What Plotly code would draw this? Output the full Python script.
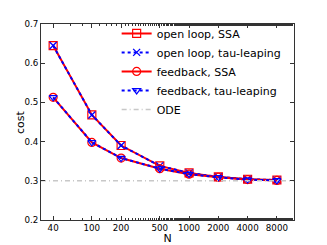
import plotly.graph_objects as go
import numpy as np

N = [40, 100, 200, 500, 1000, 2000, 4000, 8000]
tick_labels = ["40", "100", "200", "500", "1000", "2000", "4000", "8000"]
open_ssa = [0.645, 0.468, 0.390, 0.338, 0.320, 0.310, 0.304, 0.302]
open_tau = [0.645, 0.468, 0.390, 0.338, 0.320, 0.310, 0.304, 0.302]
fb_ssa = [0.513, 0.398, 0.358, 0.331, 0.317, 0.309, 0.303, 0.301]
fb_tau = [0.513, 0.398, 0.358, 0.331, 0.317, 0.309, 0.303, 0.301]
ode_value = 0.3
x_limits = [30, 12000]

RED = "#ff0000"
BLUE = "#0000ff"
FONT = "DejaVu Sans"

fig = go.Figure()
fig.add_trace(go.Scatter(
    x=N, y=open_ssa, name="open loop, SSA", mode="lines+markers",
    line=dict(color=RED, width=2),
    marker=dict(symbol="square-open", size=8, color=RED, line=dict(width=1.2, color=RED)),
))
fig.add_trace(go.Scatter(
    x=N, y=open_tau, name="open loop, tau-leaping", mode="lines+markers",
    line=dict(color=BLUE, width=2, dash="3px,3px"),
    marker=dict(symbol="x-thin-open", size=7, color=BLUE, line=dict(width=1.3, color=BLUE)),
))
fig.add_trace(go.Scatter(
    x=N, y=fb_ssa, name="feedback, SSA", mode="lines+markers",
    line=dict(color=RED, width=2),
    marker=dict(symbol="circle-open", size=8, color=RED, line=dict(width=1.2, color=RED)),
))
fig.add_trace(go.Scatter(
    x=N, y=fb_tau, name="feedback, tau-leaping", mode="lines+markers",
    line=dict(color=BLUE, width=2, dash="3px,3px"),
    marker=dict(symbol="triangle-down-open", size=7, color=BLUE, line=dict(width=1.2, color=BLUE)),
))
fig.add_trace(go.Scatter(
    x=x_limits, y=[ode_value, ode_value], name="ODE", mode="lines",
    line=dict(color="#c8c8c8", width=1.5, dash="5px,3px,1px,3px"),
))

fig.update_layout(
    width=327, height=245,
    margin=dict(l=41, r=33, t=24, b=25, autoexpand=False),
    paper_bgcolor="white", plot_bgcolor="white",
    font=dict(family=FONT, size=10, color="black"),
    showlegend=True,
    legend=dict(
        x=0.299, y=1.026, xanchor="left", yanchor="top",
        bgcolor="rgba(0,0,0,0)", borderwidth=0,
        font=dict(size=11, family=FONT), tracegroupgap=0,
        itemwidth=30,
    ),
    annotations=[dict(
        text="cost", xref="paper", yref="paper", x=-0.083, y=0.5,
        xanchor="center", yanchor="middle", textangle=-90, showarrow=False,
        font=dict(size=11, family=FONT, color="black"),
    )],
)
fig.update_xaxes(
    type="log", range=[np.log10(x_limits[0]), np.log10(x_limits[1])],
    tickvals=N, ticktext=tick_labels,
    ticks="inside", ticklen=4, tickcolor="#333", tickwidth=1,
    minor=dict(ticks="inside", ticklen=2, tickcolor="#333", showgrid=False),
    showline=True, linecolor="#333", linewidth=1, mirror="ticks",
    showgrid=False, zeroline=False, automargin=False,
    title=dict(text="N", font=dict(size=11, family=FONT), standoff=2),
    tickfont=dict(size=8.7, family=FONT),
)
fig.update_yaxes(
    range=[0.2, 0.7], tickvals=[0.2, 0.3, 0.4, 0.5, 0.6, 0.7],
    ticktext=["0.2", "0.3", "0.4", "0.5", "0.6", "0.7"],
    ticks="inside", ticklen=4, tickcolor="#333", tickwidth=1,
    showline=True, linecolor="#333", linewidth=1, mirror="ticks",
    showgrid=False, zeroline=False, automargin=False,
    tickfont=dict(size=8.7, family=FONT),
)

fig.write_html("out.html", config={"displayModeBar": False},
               post_script="document.body.style.margin='0';")
